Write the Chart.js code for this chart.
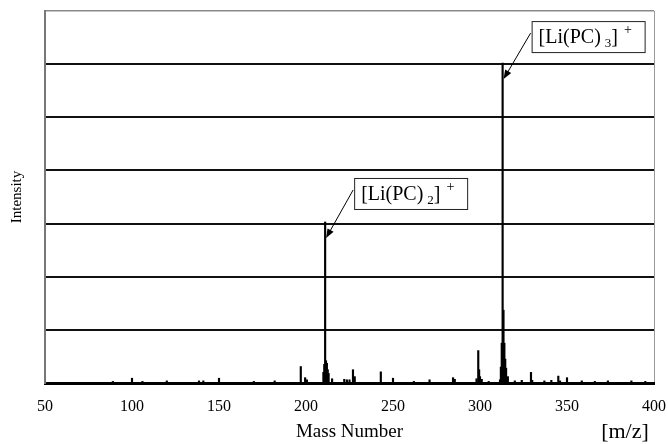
<!DOCTYPE html>
<html>
<head>
<meta charset="utf-8">
<script src="https://cdn.jsdelivr.net/npm/chart.js@4.4.0/dist/chart.umd.min.js"></script>
<style>
  html, body { margin: 0; padding: 0; background: #fff; }
  #wrap { width: 668px; height: 444px; }
</style>
</head>
<body>
<div id="wrap"><canvas id="msChart" width="668" height="444"></canvas></div>
<script>
// m/z of each peak
const masses = [
  89, 100, 106, 120, 138.5, 141, 150, 170, 182,
  197, 199.5, 200.5,
  210, 210.5, 211, 211.5, 212, 212.5, 213, 215,
  222, 223.5, 225, 227, 228, 243, 250, 262, 271,
  284.5, 285.5, 298, 299, 299.5, 300, 301, 305,
  311.5, 312, 312.5, 313, 313.5, 314, 314.5, 315, 316,
  320, 324, 329.3, 330, 337, 341, 345, 346, 350,
  358.5, 366, 373.5, 387, 395
];
// intensity, in units of one grid step
const intensities = [
  0.03, 0.09, 0.03, 0.04, 0.04, 0.04, 0.09, 0.03, 0.04,
  0.31, 0.10, 0.06,
  0.20, 0.35, 3.03, 0.42, 0.37, 0.25, 0.18, 0.08,
  0.07, 0.06, 0.06, 0.25, 0.12, 0.21, 0.09, 0.03, 0.06,
  0.10, 0.07, 0.08, 0.61, 0.25, 0.12, 0.07, 0.03,
  0.06, 0.30, 0.75, 6.02, 1.37, 0.75, 0.45, 0.28, 0.12,
  0.04, 0.05, 0.20, 0.05, 0.04, 0.05, 0.13, 0.04, 0.10,
  0.04, 0.03, 0.04, 0.04, 0.03
];
const xTicks = [50, 100, 150, 200, 250, 300, 350, 400];

// labelled ions
const ionMasses = [211, 313];
const ionSubscripts = ['2', '3'];

const SERIF = '"Liberation Serif", "Times New Roman", serif';

// --- boxes, arrows and the [m/z] unit ---
const annotatePlugin = {
  id: 'annotate',
  afterDraw(chart) {
    const ctx = chart.ctx;
    const xs = chart.scales.x;
    const ys = chart.scales.y;
    ctx.save();
    ionMasses.forEach((m, i) => {
      const h = intensities[masses.indexOf(m)];
      const px = xs.getPixelForValue(m);
      const py = ys.getPixelForValue(h);
      const bx = px + 29, by = py - 44 + (i === 1 ? 2 : 0);
      const bw = 113, bh = 31;

      ctx.fillStyle = '#fff';
      ctx.fillRect(bx, by, bw, bh);
      ctx.strokeStyle = '#222';
      ctx.lineWidth = 1;
      ctx.strokeRect(bx + 0.5, by + 0.5, bw, bh);

      // label text
      let tx = bx + 7;
      const base = by + 22;
      ctx.fillStyle = '#000';
      ctx.textBaseline = 'alphabetic';
      ctx.textAlign = 'left';
      ctx.font = '20px ' + SERIF;
      ctx.fillText('[Li(PC)', tx, base);
      tx += ctx.measureText('[Li(PC)').width + 4;
      ctx.font = '13px ' + SERIF;
      ctx.fillText(ionSubscripts[i], tx, base + 4);
      tx += ctx.measureText(ionSubscripts[i]).width;
      ctx.font = '20px ' + SERIF;
      ctx.fillText(']', tx, base);
      tx += ctx.measureText(']').width + 6;
      ctx.font = '14px ' + SERIF;
      ctx.fillText('+', tx, base - 9);

      // arrow
      const sx = bx - 1, sy = by + 12;
      const ex = px + 1, ey = py + 16;
      const ang = Math.atan2(ey - sy, ex - sx);
      ctx.strokeStyle = '#000';
      ctx.lineWidth = 1;
      ctx.beginPath();
      ctx.moveTo(sx, sy);
      ctx.lineTo(ex - 6 * Math.cos(ang), ey - 6 * Math.sin(ang));
      ctx.stroke();
      ctx.beginPath();
      ctx.moveTo(ex, ey);
      ctx.lineTo(ex - 9 * Math.cos(ang) + 3.5 * Math.sin(ang), ey - 9 * Math.sin(ang) - 3.5 * Math.cos(ang));
      ctx.lineTo(ex - 9 * Math.cos(ang) - 3.5 * Math.sin(ang), ey - 9 * Math.sin(ang) + 3.5 * Math.cos(ang));
      ctx.closePath();
      ctx.fillStyle = '#000';
      ctx.fill();
    });

    ctx.font = '22px ' + SERIF;
    ctx.fillStyle = '#000';
    ctx.textAlign = 'center';
    ctx.textBaseline = 'middle';
    ctx.fillText('[m/z]', 625, 432);
    ctx.restore();
  }
};

const points = masses.map((m, i) => ({ x: m, y: intensities[i] }));

new Chart(document.getElementById('msChart').getContext('2d'), {
  type: 'bar',
  data: {
    datasets: [{
      data: points,
      backgroundColor: '#000',
      borderWidth: 0,
      barThickness: 1.5
    }]
  },
  options: {
    responsive: false,
    animation: false,
    layout: { padding: { left: 0, right: 14, top: 11, bottom: 2.6 } },
    plugins: { legend: { display: false }, tooltip: { enabled: false } },
    scales: {
      x: {
        type: 'linear',
        min: 50,
        max: 400,
        offset: false,
        afterBuildTicks: axis => { axis.ticks = xTicks.map(v => ({ value: v })); },
        afterFit: axis => {
          axis.height = 58.4;
          axis.paddingLeft = 0;
          axis.paddingRight = 0;
        },
        ticks: { color: '#000', font: { family: SERIF, size: 16 }, padding: 14, maxRotation: 0 },
        grid: {
          offset: false,
          drawTicks: false,
          color: c => (c.tick && c.tick.value === 400 ? '#999' : 'rgba(0,0,0,0)'),
          lineWidth: 1
        },
        border: { color: '#000', width: 3 },
        title: {
          display: true,
          text: 'Mass Number',
          color: '#000',
          font: { family: SERIF, size: 19 },
          padding: { top: 0, bottom: -2 }
        }
      },
      y: {
        min: 0,
        max: 7,
        ticks: { display: false, stepSize: 1 },
        grid: {
          drawTicks: false,
          color: c => (c.tick && c.tick.value === 7 ? '#8a8a8a' : '#111'),
          lineWidth: c => (c.tick && c.tick.value === 7 ? 1.5 : 2)
        },
        border: { color: '#777', width: 2 },
        title: {
          display: true,
          text: 'Intensity',
          color: '#000',
          font: { family: SERIF, size: 15 },
          padding: { top: 8, bottom: 19 }
        }
      }
    }
  },
  plugins: [annotatePlugin]
});
</script>
</body>
</html>
